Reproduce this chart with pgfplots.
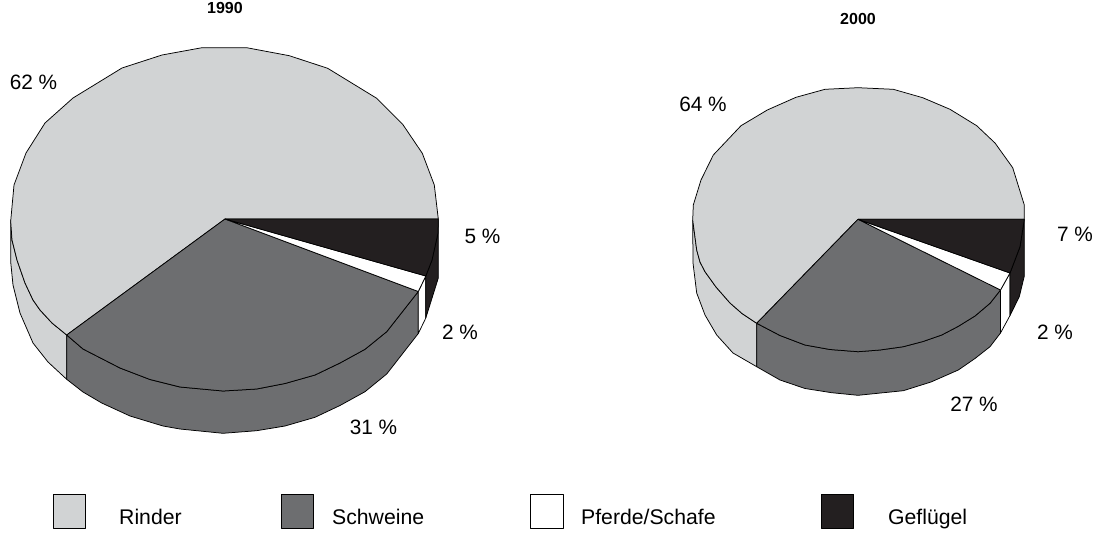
\documentclass[border=0pt]{standalone}
\usepackage{pgfplots}
\pgfplotsset{compat=1.18}
\usepackage{fontspec}
\setmainfont{Liberation Sans}
\definecolor{rinder}{HTML}{D1D3D4}
\definecolor{schweine}{HTML}{6D6E70}
\definecolor{gefluegel}{HTML}{231F20}
\pgfplotsset{
  facet/.style={fill=#1, draw=black, line width=0.75pt, line join=round, mark=none},
}
\newcommand{\lab}{\fontsize{20.8}{24}\selectfont}
\tikzset{
  val/.style={font=\lab, inner sep=0pt},
  key/.style={font=\fontsize{21.2}{24}\selectfont, inner sep=0pt, anchor=base west},
  ttl/.style={font=\fontsize{16}{19}\selectfont\bfseries, inner sep=0pt},
}
\begin{document}
\begin{tikzpicture}
\useasboundingbox (0,0) rectangle (1096pt,533pt);
\begin{axis}[
  at={(0,0)}, anchor=south west,
  scale only axis, width=1096pt, height=533pt,
  xmin=0, xmax=1096, ymin=0, ymax=533, y dir=reverse,
  axis lines=none, clip=false,
]
% ---- 1990: rim ----
\addplot[facet=rinder] coordinates {(10.7,220)(10.7,262)(13,285)(20,313)(33,343)(48,362)(66.7,379.3)(66.7,335)(52,323)(40,310)(33,300)(25,283)(17,260)(12,240)(10.7,220)};
\addplot[facet=schweine] coordinates {(66.7,335)(66.7,379.3)(83,392)(101.7,403)(130,416)(163,426)(180,429)(223,433.3)(256.7,430.7)(285,426)(315,417.3)(340,405.5)(365,391.7)(386.7,374)(418.3,333.5)(418.3,291.5)(386.7,331.7)(365,349.3)(340,363)(315,375)(285,383.5)(256.7,389)(223,391)(180,387)(150,379.5)(120,368)(83,349)(66.7,335)};
\addplot[facet=white] coordinates {(418.3,291.5)(418.3,333.5)(425.8,318)(425.8,276)(418.3,291.5)};
\addplot[facet=gefluegel] coordinates {(425.8,276)(425.8,318)(438.3,278)(438.3,219)(438,233)(432,260)(425.8,276)};
% ---- 1990: top face ----
\addplot[facet=rinder] coordinates {(225,219)(66.7,335)(52,323)(40,310)(33,300)(25,283)(17,260)(12,240)(10.7,221)(14,185)(26,153)(45,123)(73,98)(122,68)(162,55)(202,47.7)(246.7,47.7)(289.3,55.7)(327.7,68.3)(376.7,98.3)(402.7,124.3)(422.3,153.3)(434.3,185)(438.3,219)(225,219)};
\addplot[facet=schweine] coordinates {(225,219)(418.3,291.5)(386.7,331.7)(365,349.3)(340,363)(315,375)(285,383.5)(256.7,389)(223,391)(180,387)(150,379.5)(120,368)(83,349)(66.7,335)(225,219)};
\addplot[facet=white] coordinates {(225,219)(425.8,276)(418.3,291.5)(225,219)};
\addplot[facet=gefluegel] coordinates {(225,219)(438.3,219)(438,233)(432,260)(425.8,276)(225,219)};
% ---- 2000: rim ----
\addplot[facet=rinder] coordinates {(692.7,220)(693,263)(696.7,293)(705,315)(716.7,335)(733,353)(756.7,366.7)(756.7,323.3)(742,313.5)(730,303)(716,287)(705,271.7)(700,262)(696.7,250)(692.7,220)};
\addplot[facet=schweine] coordinates {(756.7,323.3)(756.7,366.7)(780,380)(805,388.5)(831.7,392.7)(858,395.3)(903.3,390.7)(931,382)(958.3,370)(975,358.5)(990,346.7)(1000.5,333)(1000.5,290)(990,303.3)(975,316)(958,326.5)(941.7,335)(923,341.5)(903.3,346.7)(880,350)(858,351.7)(830,349.5)(805,345)(780,335.5)(756.7,323.3)};
\addplot[facet=white] coordinates {(1000.5,290)(1000.5,333)(1010,315.5)(1010,273)(1000.5,290)};
\addplot[facet=gefluegel] coordinates {(1010,273)(1010,315.5)(1019.3,296.7)(1024.3,276)(1024.3,219.3)(1020,246.7)(1010,273)};
% ---- 2000: top face ----
\addplot[facet=rinder] coordinates {(858,219.3)(756.7,323.3)(742,313.5)(730,303)(716,287)(705,271.7)(700,262)(696.7,250)(692.7,220)(693.3,205)(701,180)(713.3,155)(741,125.7)(767.3,110)(796,97.3)(825,89.3)(858,87.7)(893.3,89.3)(922.7,97.7)(950,109.3)(976.7,125.7)(995,143)(1012.7,167.7)(1024.3,205)(1024.3,219.3)(858,219.3)};
\addplot[facet=schweine] coordinates {(858,219.3)(1000.5,290)(990,303.3)(975,316)(958,326.5)(941.7,335)(923,341.5)(903.3,346.7)(880,350)(858,351.7)(830,349.5)(805,345)(780,335.5)(756.7,323.3)(858,219.3)};
\addplot[facet=white] coordinates {(858,219.3)(1010,273)(1000.5,290)(858,219.3)};
\addplot[facet=gefluegel] coordinates {(858,219.3)(1024.3,219.3)(1020,246.7)(1010,273)(858,219.3)};
% ---- Legend swatches ----
\addplot[facet=rinder] coordinates {(53,494)(85.5,494)(85.5,528)(53,528)(53,494)};
\addplot[facet=schweine] coordinates {(281,494)(313.5,494)(313.5,528)(281,528)(281,494)};
\addplot[facet=white] coordinates {(530,494)(563,494)(563,528)(530,528)(530,494)};
\addplot[facet=gefluegel] coordinates {(821,494)(853.5,494)(853.5,528)(821,528)(821,494)};
% ---- Titles and labels ----
\node[ttl] at (axis cs:225,8) {1990};
\node[ttl] at (axis cs:858,19) {2000};
\node[val] at (axis cs:33.5,82) {62 \%};
\node[val] at (axis cs:703,104) {64 \%};
\node[val] at (axis cs:482.5,236) {5 \%};
\node[val] at (axis cs:460,332) {2 \%};
\node[val] at (axis cs:373.5,427) {31 \%};
\node[val] at (axis cs:1075,234) {7 \%};
\node[val] at (axis cs:1055,332) {2 \%};
\node[val] at (axis cs:974,404) {27 \%};
\node[key] at (axis cs:119,524.5) {Rinder};
\node[key] at (axis cs:332,524.5) {Schweine};
\node[key] at (axis cs:581,524.5) {Pferde/Schafe};
\node[key] at (axis cs:888,524.5) {Geflügel};
\end{axis}
\end{tikzpicture}
\end{document}
